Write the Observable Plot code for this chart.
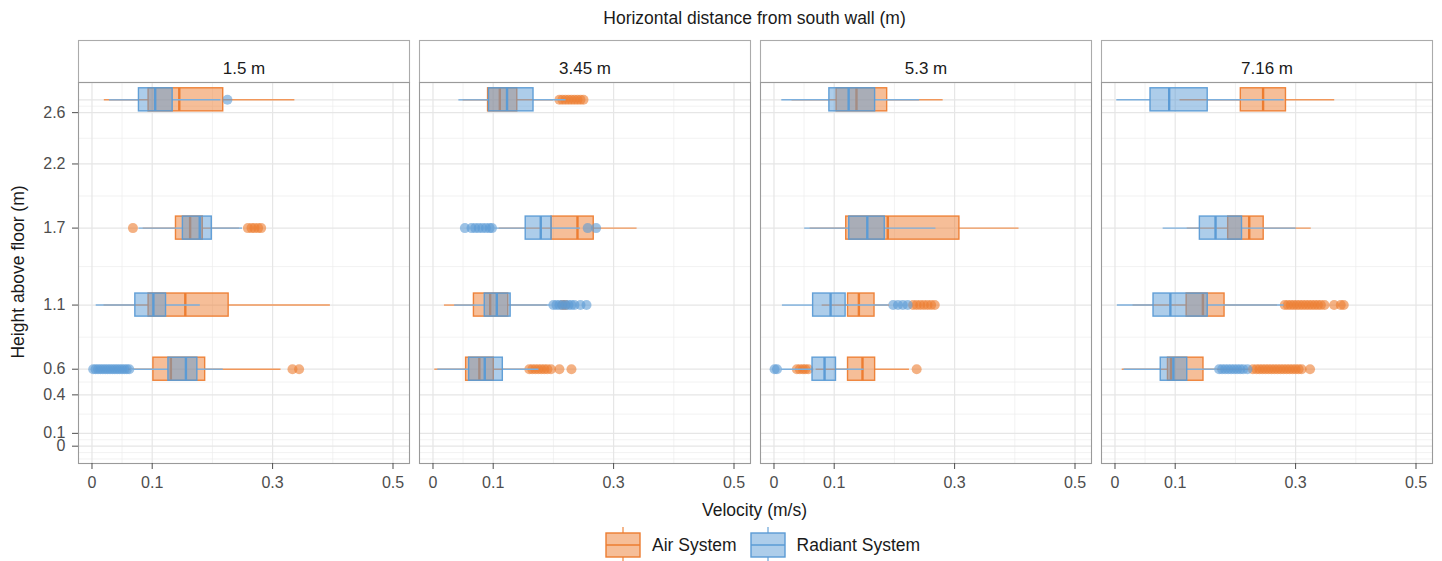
<!DOCTYPE html>
<html>
<head>
<meta charset="utf-8">
<script src="https://cdn.jsdelivr.net/npm/d3@7"></script>
<script src="https://cdn.jsdelivr.net/npm/@observablehq/plot@0.6"></script>
<style>
  body { margin: 0; background: #fff; font-family: "Liberation Sans", Arial, sans-serif; }
  #wrap { position: relative; width: 1442px; height: 561px; overflow: hidden; }
  #title { height: 36px; line-height: 36px; text-align: center; padding-left: 77px; padding-right: 10px; font-size: 17.5px; color: #1a1a1a; }
  #chart svg { display: block; }
  #xtitle { position: absolute; top: 500px; left: 77px; width: 1355px; text-align: center; line-height: 20px; font-size: 17.5px; color: #1a1a1a; }
  #ytitle { position: absolute; left: 18px; top: 272px; transform: translate(-50%, -50%) rotate(-90deg); white-space: nowrap; font-size: 17.5px; color: #1a1a1a; }
  #legend { position: absolute; left: 605px; top: 527px; display: flex; align-items: center; font-size: 17.5px; color: #1a1a1a; }
  #legend svg { display: block; }
</style>
</head>
<body>
<div id="wrap">
  <div id="title">Horizontal distance from south wall (m)</div>
  <div id="chart"></div>
  <div id="ytitle">Height above floor (m)</div>
  <div id="xtitle">Velocity (m/s)</div>
  <div id="legend"></div>
</div>
<script>
// ---- data ----
const panels = ["1.5 m", "3.45 m", "5.3 m", "7.16 m"];
const systems = ["Air System", "Radiant System"];
const systemColors = ["#ED7D31", "#5B9BD5"];
const whiskerColors = ["#F1975A", "#7CAFDD"];
const yTicks = [0, 0.1, 0.4, 0.6, 1.1, 1.7, 2.2, 2.6];
const yGridMajor = [0, 0.1, 0.4, 0.6, 1.1, 1.7, 2.2, 2.6, 2.7];
const yGridMinor = [-0.1, -0.05, 0.05, 0.25, 0.5, 0.85, 1.4, 1.95, 2.4, 2.65];
const xTicks = [0, 0.1, 0.3, 0.5];
const xGridMinor = [0.05, 0.2, 0.4];

// [panel index, height, lower whisker, Q1, median, Q3, upper whisker]
const airBoxes = [
  [0, 0.6, 0.060, 0.102, 0.131, 0.188, 0.314],
  [0, 1.1, 0.020, 0.094, 0.155, 0.227, 0.396],
  [0, 1.7, 0.085, 0.1395, 0.163, 0.184, 0.245],
  [0, 2.7, 0.0205, 0.094, 0.145, 0.218, 0.337],
  [1, 0.6, 0.003, 0.055, 0.077, 0.101, 0.155],
  [1, 1.1, 0.019, 0.068, 0.095, 0.125, 0.190],
  [1, 1.7, 0.110, 0.197, 0.240, 0.267, 0.339],
  [1, 2.7, 0.050, 0.0915, 0.111, 0.140, 0.200],
  [2, 0.6, 0.070, 0.123, 0.147, 0.168, 0.225],
  [2, 1.1, 0.080, 0.123, 0.141, 0.167, 0.192],
  [2, 1.7, 0.060, 0.120, 0.189, 0.308, 0.407],
  [2, 2.7, 0.030, 0.104, 0.137, 0.188, 0.281],
  [3, 0.6, 0.012, 0.088, 0.093, 0.147, 0.225],
  [3, 1.1, 0.030, 0.119, 0.146, 0.182, 0.270],
  [3, 1.7, 0.120, 0.188, 0.223, 0.247, 0.326],
  [3, 2.7, 0.108, 0.209, 0.246, 0.284, 0.365]
];
const radiantBoxes = [
  [0, 0.6, 0.065, 0.127, 0.156, 0.175, 0.218],
  [0, 1.1, 0.007, 0.072, 0.102, 0.123, 0.180],
  [0, 1.7, 0.078, 0.151, 0.179, 0.199, 0.250],
  [0, 2.7, 0.029, 0.078, 0.105, 0.134, 0.214],
  [1, 0.6, 0.008, 0.060, 0.086, 0.116, 0.176],
  [1, 1.1, 0.036, 0.086, 0.106, 0.129, 0.196],
  [1, 1.7, 0.102, 0.154, 0.179, 0.197, 0.245],
  [1, 2.7, 0.043, 0.093, 0.123, 0.167, 0.221],
  [2, 0.6, 0.012, 0.064, 0.084, 0.103, 0.150],
  [2, 1.1, 0.014, 0.065, 0.094, 0.119, 0.190],
  [2, 1.7, 0.051, 0.125, 0.155, 0.184, 0.269],
  [2, 2.7, 0.013, 0.092, 0.124, 0.168, 0.242],
  [3, 0.6, 0.015, 0.076, 0.097, 0.120, 0.170],
  [3, 1.1, 0.004, 0.064, 0.092, 0.154, 0.281],
  [3, 1.7, 0.080, 0.141, 0.167, 0.211, 0.301],
  [3, 2.7, 0.003, 0.059, 0.090, 0.154, 0.281]
];
// [panel index, height, outlier values]
const airOutliers = [
  [0, 0.6, [0.333, 0.344]],
  [0, 1.7, [0.068, 0.259, 0.265, 0.270, 0.276, 0.281]],
  [1, 0.6, [0.160, 0.165, 0.170, 0.175, 0.180, 0.185, 0.190, 0.196, 0.210, 0.230]],
  [1, 1.1, [0.215, 0.220]],
  [1, 2.7, [0.210, 0.215, 0.220, 0.225, 0.230, 0.235, 0.240, 0.245, 0.250]],
  [2, 0.6, [0.038, 0.043, 0.048, 0.052, 0.057, 0.237]],
  [2, 1.1, [0.231, 0.237, 0.243, 0.249, 0.255, 0.261, 0.267]],
  [3, 0.6, [0.229, 0.235, 0.240, 0.245, 0.250, 0.255, 0.260, 0.265, 0.270, 0.275, 0.280, 0.285, 0.290, 0.295, 0.300, 0.305, 0.310, 0.324]],
  [3, 1.1, [0.282, 0.287, 0.292, 0.297, 0.302, 0.307, 0.312, 0.317, 0.322, 0.327, 0.332, 0.337, 0.342, 0.348, 0.364, 0.375, 0.380]]
];
const radiantOutliers = [
  [0, 0.6, [0.002, 0.006, 0.010, 0.014, 0.018, 0.022, 0.026, 0.030, 0.034, 0.038, 0.042, 0.046, 0.050, 0.054, 0.058, 0.062]],
  [0, 2.7, [0.225]],
  [1, 1.1, [0.200, 0.205, 0.210, 0.215, 0.220, 0.225, 0.230, 0.235, 0.245, 0.255]],
  [1, 1.7, [0.053, 0.064, 0.070, 0.076, 0.082, 0.088, 0.094, 0.098, 0.257, 0.271]],
  [2, 0.6, [0.001, 0.005]],
  [2, 1.1, [0.198, 0.206, 0.214, 0.222]],
  [3, 0.6, [0.173, 0.178, 0.183, 0.188, 0.193, 0.198, 0.203, 0.208, 0.213, 0.220]]
];

// ---- build tables ----
const toBoxes = (rows) => rows.map(([p, h, lo, q1, med, q3, hi]) => ({panel: panels[p], h, lo, q1, med, q3, hi}));
const toOutliers = (rows) => rows.flatMap(([p, h, vals]) => vals.map(v => ({panel: panels[p], h, v})));

const halfBox = 0.09; // half box thickness, in y units

function boxLayer(rows, outRows, color, wcolor) {
  const b = toBoxes(rows);
  const o = toOutliers(outRows);
  return [
    Plot.dot(o, {fx: "panel", x: "v", y: "h", r: 5, fill: color, fillOpacity: 0.6, stroke: null}),
    Plot.ruleY(b, {fx: "panel", y: "h", x1: "lo", x2: "q1", stroke: wcolor, strokeWidth: 1.4}),
    Plot.ruleY(b, {fx: "panel", y: "h", x1: "q3", x2: "hi", stroke: wcolor, strokeWidth: 1.4}),
    Plot.rect(b, {fx: "panel", x1: "q1", x2: "q3", y1: d => d.h - halfBox, y2: d => d.h + halfBox,
      fill: color, fillOpacity: 0.5, stroke: color, strokeOpacity: 0.95, strokeWidth: 1.4}),
    Plot.ruleX(b, {fx: "panel", x: "med", y1: d => d.h - halfBox, y2: d => d.h + halfBox,
      stroke: color, strokeWidth: 2.4})
  ];
}

const chart = Plot.plot({
  width: 1442,
  height: 464,
  marginTop: 46,
  marginBottom: 37,
  marginLeft: 77,
  marginRight: 10,
  style: {fontFamily: "'Liberation Sans', Arial, sans-serif", fontSize: "16px", background: "#fff"},
  fx: {domain: panels, paddingInner: 0.03, paddingOuter: 0, axis: null},
  x: {domain: [-0.0224, 0.5274]},
  y: {domain: [-0.135, 2.835]},
  marks: [
    Plot.frame({fill: "white", stroke: "#ababab", strokeWidth: 1.1, insetTop: -42, insetBottom: 381}),
    Plot.text(panels, {fx: d => d, text: d => d, frameAnchor: "top", dy: -21, fontSize: 17, fill: "#1a1a1a"}),
    Plot.gridY(yGridMinor, {stroke: "#ededed", strokeOpacity: 1, strokeWidth: 0.7}),
    Plot.gridX(xGridMinor, {stroke: "#ededed", strokeOpacity: 1, strokeWidth: 0.7}),
    Plot.gridY(yGridMajor, {stroke: "#e6e6e6", strokeOpacity: 1, strokeWidth: 1.2}),
    Plot.gridX(xTicks, {stroke: "#e6e6e6", strokeOpacity: 1, strokeWidth: 1.2}),
    ...boxLayer(airBoxes, airOutliers, systemColors[0], whiskerColors[0]),
    ...boxLayer(radiantBoxes, radiantOutliers, systemColors[1], whiskerColors[1]),
    Plot.frame({stroke: "#9a9a9a", strokeWidth: 1.1}),
    Plot.axisX(xTicks, {tickSize: 6, tickPadding: 7, tickFormat: d => String(d), label: null, color: "#4d4d4d", fontSize: 16}),
    Plot.axisY(yTicks, {tickSize: 6, tickPadding: 7, tickFormat: d => String(d), label: null, color: "#4d4d4d", fontSize: 16})
  ]
});
document.getElementById("chart").appendChild(chart);

// ---- legend ----
const legend = document.getElementById("legend");
systems.forEach((name, i) => {
  const c = systemColors[i];
  const w = whiskerColors[i];
  const ns = "http://www.w3.org/2000/svg";
  const svg = document.createElementNS(ns, "svg");
  svg.setAttribute("width", "36");
  svg.setAttribute("height", "36");
  svg.style.marginLeft = i === 0 ? "0px" : "13px";
  svg.innerHTML =
    `<line x1="18" x2="18" y1="0" y2="6" stroke="${w}" stroke-width="1.4"/>` +
    `<line x1="18" x2="18" y1="30" y2="36" stroke="${w}" stroke-width="1.4"/>` +
    `<rect x="1" y="6" width="34" height="24" fill="${c}" fill-opacity="0.5" stroke="${c}" stroke-width="1.4"/>` +
    `<line x1="1" x2="35" y1="18" y2="18" stroke="${c}" stroke-width="1.6"/>`;
  legend.appendChild(svg);
  const span = document.createElement("span");
  span.textContent = name;
  span.style.marginLeft = "11px";
  legend.appendChild(span);
});
</script>
</body>
</html>
